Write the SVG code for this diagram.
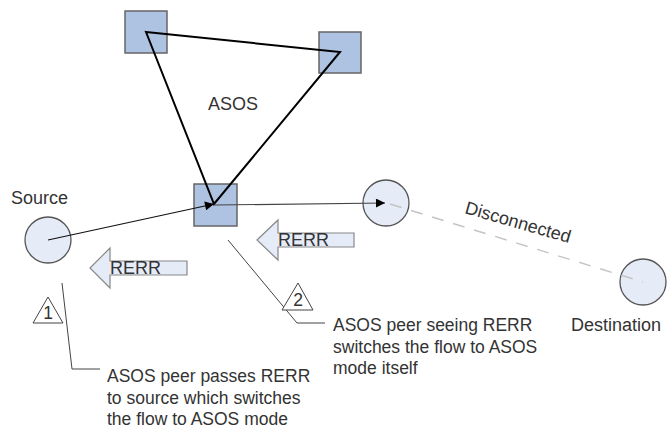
<svg xmlns="http://www.w3.org/2000/svg" width="667" height="430" viewBox="0 0 667 430">
<defs>
<style>
.sq{fill:#aec2e2;stroke:#666;stroke-width:1.5}
.ci{fill:#e5ecf8;stroke:#555;stroke-width:1.3}
.rerr{fill:#e5ecf8;stroke:#888;stroke-width:1.2}
.t{font-family:"Liberation Sans",Arial,sans-serif;fill:#333;font-size:18px}
.c{font-family:"Liberation Sans",Arial,sans-serif;fill:#333;font-size:17.5px}
.co{fill:none;stroke:#444;stroke-width:1}
.num{fill:#fff;stroke:#444;stroke-width:1}
</style>
<marker id="ah" viewBox="0 0 10 10" refX="10" refY="5" markerWidth="11" markerHeight="9" markerUnits="userSpaceOnUse" orient="auto">
<path d="M0,0 L10,5 L0,10 z" fill="#000"/>
</marker>
</defs>
<rect width="667" height="430" fill="#fff"/>

<g id="peer-top-left"><rect class="sq" x="125" y="11" width="42" height="42"/></g>
<g id="peer-right"><rect class="sq" x="319" y="32" width="42" height="41"/></g>
<g id="peer-bottom"><rect class="sq" x="194" y="184" width="43" height="42"/></g>
<g id="source"><circle class="ci" cx="48" cy="240" r="23"/><text class="t" x="11" y="204">Source</text></g>
<g id="mid-node"><circle class="ci" cx="386" cy="203" r="23"/></g>
<g id="destination"><circle class="ci" cx="643" cy="282" r="23"/><text class="t" x="571" y="331">Destination</text></g>
<g id="asos-label"><text class="t" x="208" y="110">ASOS</text></g>

<g id="connectors">
<path d="M146,32 L340,52 L214,204 Z" fill="none" stroke="#000" stroke-width="2" stroke-linejoin="miter"/>
<line x1="48" y1="240" x2="214" y2="204" stroke="#111" stroke-width="1.2" marker-end="url(#ah)"/>
<line x1="214" y1="205" x2="385" y2="203" stroke="#444" stroke-width="1.2" marker-end="url(#ah)"/>
<line x1="390" y1="204" x2="643" y2="282" stroke="#c4c4c4" stroke-width="1.5" stroke-dasharray="12 10"/>
<path class="co" d="M62,283 L72,369 L100,369"/>
<path class="co" d="M228,240 L297,323 L325,323"/>
</g>

<g id="disconnected-label"><text class="t" x="464" y="213" transform="rotate(16 464 213)">Disconnected</text></g>

<g id="rerr-1"><polygon class="rerr" points="90,268 110,248 110,261 187,261 187,275 110,275 110,288"/><text class="t" x="110" y="274">RERR</text></g>
<g id="rerr-2"><polygon class="rerr" points="257,240 278,220 278,233 354,233 354,247 278,247 278,260"/><text class="t" x="278" y="246">RERR</text></g>

<g id="marker-1"><polygon class="num" points="48,297 33,323 63,323"/><text class="c" x="48" y="319" text-anchor="middle">1</text></g>
<g id="marker-2"><polygon class="num" points="298,283 282,310 313,310"/><text class="c" x="298" y="306" text-anchor="middle">2</text></g>

<g id="note-1"><text class="c" x="107" y="382">ASOS peer passes RERR</text><text class="c" x="107" y="403.5">to source which switches</text><text class="c" x="107" y="425">the flow to ASOS mode</text></g>
<g id="note-2"><text class="c" x="333" y="331">ASOS peer seeing RERR</text><text class="c" x="333" y="352.5">switches the flow to ASOS</text><text class="c" x="333" y="374">mode itself</text></g>
</svg>
